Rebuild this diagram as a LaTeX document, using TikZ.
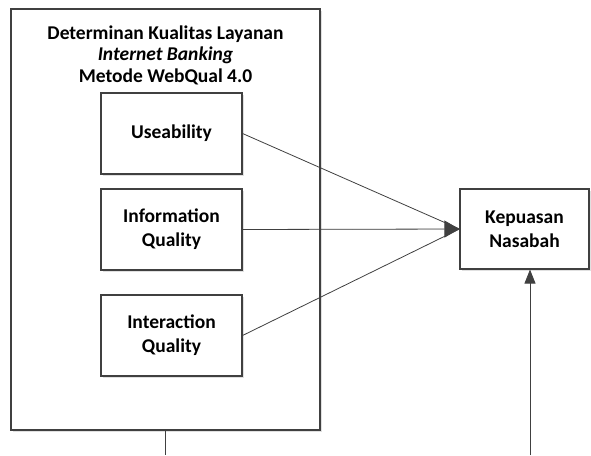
\documentclass[tikz,border=0pt]{standalone}
\usepackage{fontspec}
\setmainfont{Carlito}
\usetikzlibrary{arrows.meta,shadows}

\definecolor{edge}{HTML}{404040}

\begin{document}
\begin{tikzpicture}
[	
	x=1pt,y=-1pt,
	bx/.style={rectangle,draw=edge,line width=1.1,fill=white,
		drop shadow={shadow xshift=2pt,shadow yshift=-2pt,fill=black!12,opacity=1},
		align=center,font=\fontsize{19.5}{24}\selectfont\bfseries},
	ln/.style={draw=edge,line width=0.8},
	tip/.style={-{Triangle[length=15pt,width=17pt]},draw=edge,fill=edge}
]

\useasboundingbox (0,0) rectangle (591,455);

\node[bx,minimum width=309,minimum height=421] (outer) at (165.5,219.5) {};
\node[align=center,font=\fontsize{19.5}{21.5}\selectfont\bfseries] (title) at (165.5,55) {Determinan Kualitas Layanan\\ \textit{Internet Banking}\\ Metode WebQual 4.0};

\node[bx,minimum width=141,minimum height=81] (use) at (171.5,133.5) {Useability};
\node[bx,minimum width=141,minimum height=81] (info) at (171.5,229.5) {Information\\ Quality};
\node[bx,minimum width=141,minimum height=81] (inter) at (171.5,335.5) {Interaction\\ Quality};

\node[bx,minimum width=129,minimum height=80] (kep) at (524.5,229) {Kepuasan\\ Nasabah};

\coordinate (b1) at (165.5,455);
\coordinate (b2) at (530,455);

\draw[ln]		(use.east)		-- 	(kep.west);
\draw[ln]		(inter.east)	-- 	(kep.west);
\draw[ln,tip]	(info.east)		-- 	(kep.west);

\draw[ln]		(outer.south)	-- 	(b1);
\draw[ln,-{Triangle[length=14pt,width=11pt]},fill=edge] (b2) -- (kep.south -| b2);

\end{tikzpicture}
\end{document}
